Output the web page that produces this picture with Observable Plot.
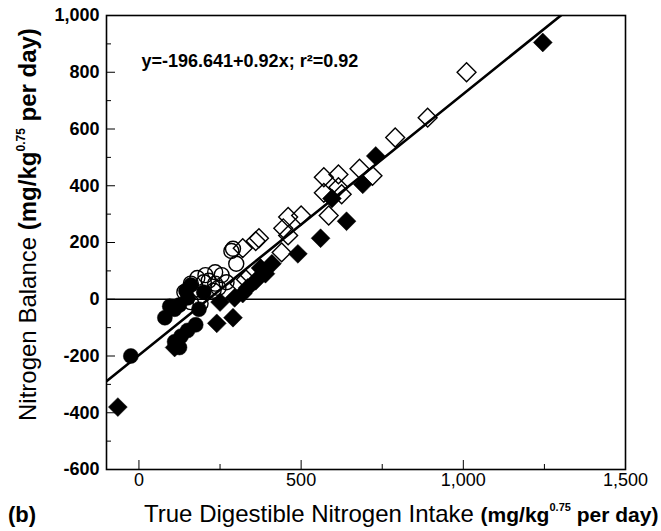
<!DOCTYPE html>
<html><head><meta charset="utf-8">
<script src="https://cdn.jsdelivr.net/npm/d3@7"></script>
<script src="https://cdn.jsdelivr.net/npm/@observablehq/plot@0.6"></script>
<style>body{margin:0;background:#fff;}</style>
</head><body><div id="chart"></div>
<script>
// Data
const filledCircleX = [-25, 80, 95, 110, 125, 145, 160, 150, 185, 175, 150, 130, 110, 125, 200];
const filledCircleY = [-200, -65, -25, -35, -20, 30, 50, 5, -35, -90, -110, -130, -150, -170, 25];
const openCircleX = [290, 300, 235, 205, 180, 160, 255, 235, 215, 140, 160, 190, 245, 285, 270, 230, 200];
const openCircleY = [178, 125, 95, 85, 75, 55, 85, 55, 65, 25, -10, -15, 40, 170, 60, 30, 60];
const filledDiamondX = [-65, 1245, 730, 690, 595, 640, 560, 490, 410, 375, 360, 320, 240, 290, 250, 295, 335, 110, 390];
const filledDiamondY = [-380, 905, 505, 405, 355, 275, 215, 160, 125, 110, 65, 20, -85, -65, -10, 5, 40, -170, 90];
const openDiamondX = [1010, 890, 790, 570, 615, 680, 720, 570, 625, 460, 500, 585, 370, 360, 460, 320, 440, 330, 310, 445, 615];
const openDiamondY = [800, 640, 570, 430, 440, 460, 435, 375, 370, 290, 295, 295, 215, 205, 225, 180, 165, 70, 55, 250, 395];

const fitIntercept = -196.641, fitSlope = 0.92, fitR2 = 0.92;
const xDomain = [-100, 1500], yDomain = [-600, 1000];
const xMajorTicks = [0, 500, 1000, 1500], xMinorTicks = [250, 750, 1250];
const yMajorTicks = [-600, -400, -200, 0, 200, 400, 600, 800, 1000];
const yMinorTicks = [-500, -300, -100, 100, 300, 500, 700, 900];

const pts = (xs, ys) => xs.map((x, i) => ({x, y: ys[i]}));
const fitLine = xDomain.map(x => ({x, y: fitIntercept + fitSlope * x}));
const fmt = d => d.toLocaleString("en-US");

const chart = Plot.plot({
  width: 661, height: 531,
  marginLeft: 106, marginRight: 36, marginTop: 15, marginBottom: 62,
  style: {fontFamily: "'Liberation Sans', Arial, sans-serif", fontSize: "18px", background: "white", color: "black"},
  x: {domain: xDomain},
  y: {domain: yDomain},
  marks: [
    Plot.ruleY([0], {stroke: "black", strokeWidth: 1.5}),
    Plot.line(fitLine, {x: "x", y: "y", stroke: "black", strokeWidth: 2.6, clip: true}),
    Plot.dot(pts(filledCircleX, filledCircleY), {x: "x", y: "y", r: 7.5, fill: "black", stroke: "black", strokeWidth: 0.5}),
    Plot.dot(pts(openCircleX, openCircleY), {x: "x", y: "y", r: 7.5, fill: "none", stroke: "black", strokeWidth: 1.4}),
    Plot.dot(pts(filledDiamondX, filledDiamondY), {x: "x", y: "y", r: 8.5, symbol: "diamond2", fill: "black", stroke: "black", strokeWidth: 0.5}),
    Plot.dot(pts(openDiamondX, openDiamondY), {x: "x", y: "y", r: 8.5, symbol: "diamond2", fill: "none", stroke: "black", strokeWidth: 1.4}),
    Plot.axisX(xMajorTicks, {tickSize: -9, tickPadding: 13, tickFormat: fmt, label: null, fontSize: 18}),
    Plot.axisX(xMinorTicks, {tickSize: -5, tickFormat: () => "", label: null}),
    Plot.axisY(yMajorTicks, {tickSize: -9, tickPadding: 16, tickFormat: fmt, label: null, fontSize: 18, fontWeight: "bold"}),
    Plot.axisY(yMinorTicks, {tickSize: -5, tickFormat: () => "", label: null}),
    Plot.frame({stroke: "black", strokeWidth: 1.6}),
    Plot.text([`y=${fitIntercept}+${fitSlope}x; r²=${fitR2}`], {frameAnchor: "top-left", dx: 35, dy: 46, textAnchor: "start", lineAnchor: "middle", fontSize: 18, fontWeight: "bold"})
  ]
});

const svg = d3.select(chart);
// y axis title
const yt = svg.append("text")
  .attr("transform", "translate(36,421) rotate(-90)")
  .attr("text-anchor", "start")
  .attr("font-size", 24)
  .attr("fill", "black");
yt.append("tspan").text("Nitrogen Balance ");
yt.append("tspan").attr("font-weight", "bold").text("(mg/kg");
yt.append("tspan").attr("font-weight", "bold").attr("font-size", 12).attr("dy", -11).text("0.75");
yt.append("tspan").attr("font-weight", "bold").attr("dy", 11).text(" per day)");
// x axis title
const xt = svg.append("text")
  .attr("x", 144).attr("y", 522)
  .attr("text-anchor", "start")
  .attr("font-size", 24)
  .attr("fill", "black");
xt.append("tspan").text("True Digestible Nitrogen Intake ");
xt.append("tspan").attr("font-weight", "bold").attr("font-size", 21).text("(mg/kg");
xt.append("tspan").attr("font-weight", "bold").attr("font-size", 11).attr("dy", -11).text("0.75");
xt.append("tspan").attr("font-weight", "bold").attr("font-size", 21).attr("dy", 11).text(" per day)");
// panel label
svg.append("text").attr("x", 8).attr("y", 522).attr("text-anchor", "start").attr("font-size", 22).attr("font-weight", "bold").attr("fill", "black").text("(b)");

document.getElementById("chart").append(chart);
</script>
</body></html>
